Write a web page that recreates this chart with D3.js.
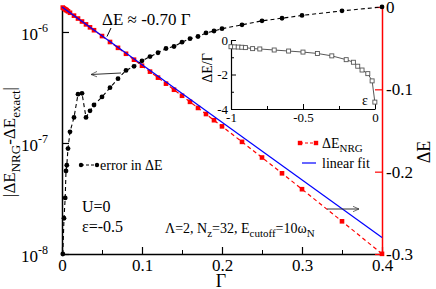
<!DOCTYPE html>
<html lang="en">
<head>
    <meta charset="UTF-8">
    <title>NRG error</title>
    <script src="https://d3js.org/d3.v7.min.js"></script>
    <style>
        body { margin: 0; background: #fff; }
        svg text { font-family: "Liberation Serif", "Times New Roman", Tinos, "DejaVu Serif", serif; fill: #000; }
    </style>
</head>
<body>
<script>
    var width = 436, height = 289;

    // shared Gamma grid of the NRG runs
    var gamma = [0.001, 0.0025, 0.004, 0.005, 0.006, 0.0075, 0.01, 0.015, 0.02, 0.025, 0.03, 0.035,
        0.04, 0.05, 0.06, 0.07, 0.08, 0.09, 0.1, 0.11, 0.12, 0.13, 0.14, 0.15, 0.16, 0.17, 0.18,
        0.19, 0.2, 0.225, 0.25, 0.275, 0.3, 0.35, 0.4];
    // |dE_NRG - dE_exact| (left, log axis)
    var errorDE = [1.0e-8, 2.1e-8, 3.2e-8, 5.6e-8, 6.3e-8, 8.9e-8, 1.26e-7, 1.7e-7, 2.75e-7, 2.8e-7,
        1.7e-7, 1.95e-7, 2.2e-7, 2.6e-7, 3.15e-7, 3.8e-7, 4.5e-7, 4.9e-7, 5.5e-7, 6.0e-7, 6.5e-7,
        7.1e-7, 7.4e-7, 8.1e-7, 8.7e-7, 9.1e-7, 9.8e-7, 1.02e-6, 1.07e-6, 1.16e-6, 1.26e-6,
        1.33e-6, 1.41e-6, 1.55e-6, 1.68e-6];
    // dE_NRG (right axis)
    var nrgDE = [-0.0007, -0.00175, -0.0028, -0.0035, -0.0042, -0.00525, -0.007, -0.0105, -0.014,
        -0.0176, -0.0211, -0.0247, -0.0282, -0.0353, -0.0425, -0.0496, -0.0568, -0.064, -0.0713,
        -0.0785, -0.0858, -0.0931, -0.1005, -0.1078, -0.1152, -0.1226, -0.13, -0.1375, -0.145,
        -0.1638, -0.1828, -0.202, -0.2213, -0.2603, -0.2998];
    // linear fit dE = -0.70 Gamma
    var fitGamma = [0, 0.4];
    var fitDE = [0, -0.28];

    // inset: dE/Gamma vs epsilon
    var insetEps = [-1, -0.975, -0.95, -0.925, -0.9, -0.85, -0.8, -0.7, -0.6, -0.5, -0.4, -0.3,
        -0.2, -0.15, -0.12, -0.09, -0.05, -0.02, -0.001];
    var insetRatio = [-0.39, -0.4, -0.41, -0.42, -0.44, -0.5, -0.52, -0.58, -0.64, -0.7, -0.78,
        -0.92, -1.14, -1.29, -1.52, -1.74, -1.95, -2.37, -3.6];

    var xTicks = [0, 0.1, 0.2, 0.3, 0.4];
    var xMinor = [0.05, 0.15, 0.25, 0.35];
    var leftTicks = [-6, -7, -8];
    var rightTicks = [0, -0.1, -0.2, -0.3];
    var insetXTicks = [-1, -0.5, 0];
    var insetXMinor = [-0.75, -0.25];
    var insetYTicks = [0, -2, -4];
    var insetYMinor = [-1, -3];

    // plain hyphen minus like the original
    function fmt(d) { return d === 0 ? "0" : String(d); }
    function fmt1(d) { return d === 0 ? "0" : d.toFixed(1); }

    var svg = d3.select("body").append("svg")
        .attr("width", width)
        .attr("height", height);

    var x = d3.scaleLinear().domain([0, 0.4]).range([62, 382]);
    var yL = d3.scaleLog().domain([1e-8, Math.pow(10, -5.775)]).range([254, 7]);
    var yR = d3.scaleLinear().domain([-0.3, 0]).range([254, 7]);

    // axes
    var gx = svg.append("g").attr("transform", "translate(0,254)")
        .call(d3.axisBottom(x).tickValues(xTicks).tickSizeInner(-7).tickSizeOuter(0)
            .tickPadding(5).tickFormat(fmt1));
    svg.append("g").attr("transform", "translate(0,254)")
        .call(d3.axisBottom(x).tickValues(xMinor).tickSizeInner(-4).tickSizeOuter(0).tickFormat(""))
        .select(".domain").remove();
    gx.selectAll("text").attr("font-size", 17).attr("dy", "0.72em");

    var gl = svg.append("g").attr("transform", "translate(62,0)")
        .call(d3.axisLeft(yL).tickValues(leftTicks.map(function (e) { return Math.pow(10, e); }))
            .tickSizeInner(-7).tickSizeOuter(0).tickFormat(""));
    leftTicks.forEach(function (e) {
        var t = svg.append("text")
            .attr("x", 48).attr("y", yL(Math.pow(10, e)) + 8)
            .attr("text-anchor", "end").attr("font-size", 17).text("10");
        t.append("tspan").attr("font-size", 12).attr("dy", -8).text(e);
    });

    var gr = svg.append("g").attr("transform", "translate(382,0)")
        .call(d3.axisRight(yR).tickValues(rightTicks).tickSizeInner(-7).tickSizeOuter(0)
            .tickPadding(4).tickFormat(fmt1));
    gr.selectAll("text").attr("font-size", 17);

    [gx, gl, gr].forEach(function (g) {
        g.select(".domain").attr("stroke-width", 1.5);
        g.selectAll(".tick line").attr("stroke-width", 1.2);
    });
    gr.select(".domain").attr("stroke", "red");
    gr.selectAll(".tick line").attr("stroke", "red");

    // axis titles
    svg.append("text").attr("x", 221).attr("y", 287).attr("text-anchor", "middle")
        .attr("font-size", 18).text("Γ");
    var lt = svg.append("text").attr("transform", "translate(15,142) rotate(-90)")
        .attr("text-anchor", "middle").attr("font-size", 17);
    lt.append("tspan").text("|ΔE");
    lt.append("tspan").attr("font-size", 13).attr("dy", 5).text("NRG");
    lt.append("tspan").attr("dy", -5).text("-ΔE");
    lt.append("tspan").attr("font-size", 13).attr("dy", 5).text("exact");
    lt.append("tspan").attr("dy", -5).text("|");
    svg.append("text").attr("transform", "translate(430,152) rotate(-90)")
        .attr("text-anchor", "middle").attr("font-size", 18).text("ΔE");

    // red NRG data
    var nrgPts = gamma.map(function (g, i) { return [x(g), yR(nrgDE[i])]; });
    svg.append("path").attr("d", d3.line()(nrgPts))
        .attr("fill", "none").attr("stroke", "red").attr("stroke-width", 1.2)
        .attr("stroke-dasharray", "4,3");
    svg.selectAll(".sq").data(nrgPts).enter().append("rect")
        .attr("x", function (d) { return d[0] - 2.3; })
        .attr("y", function (d) { return d[1] - 2.3; })
        .attr("width", 4.6).attr("height", 4.6).attr("fill", "red");

    // linear fit
    svg.append("path")
        .attr("d", d3.line()(fitGamma.map(function (g, i) { return [x(g), yR(fitDE[i])]; })))
        .attr("fill", "none").attr("stroke", "blue").attr("stroke-width", 1.2);

    // error data
    var errPts = gamma.map(function (g, i) { return [x(g), yL(errorDE[i])]; });
    svg.append("path").attr("d", d3.line()(errPts))
        .attr("fill", "none").attr("stroke", "black").attr("stroke-width", 1.1)
        .attr("stroke-dasharray", "4,3");
    svg.selectAll(".dot").data(errPts).enter().append("circle")
        .attr("cx", function (d) { return d[0]; })
        .attr("cy", function (d) { return d[1]; })
        .attr("r", 2.4).attr("fill", "black");

    // arrowheads
    var defs = svg.append("defs");
    defs.append("marker").attr("id", "arr").attr("viewBox", "0 0 10 10")
        .attr("refX", 9).attr("refY", 5).attr("markerWidth", 7).attr("markerHeight", 7)
        .attr("orient", "auto").attr("markerUnits", "userSpaceOnUse")
        .append("path").attr("d", "M0,1 L9,5 L0,9").attr("fill", "none").attr("stroke", "#333");
    svg.append("line").attr("x1", 121).attr("y1", 73).attr("x2", 91).attr("y2", 74.5)
        .attr("stroke", "#333").attr("marker-end", "url(#arr)");
    svg.append("line").attr("x1", 327).attr("y1", 209).attr("x2", 359).attr("y2", 209)
        .attr("stroke", "#333").attr("marker-end", "url(#arr)");

    // annotations
    svg.append("text").attr("x", 102).attr("y", 25).attr("font-size", 17).text("ΔE ≈ -0.70 Γ");
    svg.append("line").attr("x1", 111).attr("y1", 28).attr("x2", 107).attr("y2", 36.5)
        .attr("stroke", "black");
    svg.append("text").attr("x", 82).attr("y", 212).attr("font-size", 16).text("U=0");
    svg.append("text").attr("x", 82).attr("y", 232).attr("font-size", 16).text("ε=-0.5");
    var pt = svg.append("text").attr("x", 165).attr("y", 233).attr("font-size", 14);
    pt.append("tspan").text("Λ=2, N");
    pt.append("tspan").attr("font-size", 11).attr("dy", 4).text("z");
    pt.append("tspan").attr("dy", -4).text("=32, E");
    pt.append("tspan").attr("font-size", 11).attr("dy", 4).text("cutoff");
    pt.append("tspan").attr("dy", -4).text("=10ω");
    pt.append("tspan").attr("font-size", 11).attr("dy", 4).text("N");

    // legends
    svg.append("line").attr("x1", 81).attr("y1", 165).attr("x2", 97).attr("y2", 165)
        .attr("stroke", "black").attr("stroke-dasharray", "3,2");
    [81, 97].forEach(function (cx) {
        svg.append("circle").attr("cx", cx).attr("cy", 165).attr("r", 2.2).attr("fill", "black");
    });
    svg.append("text").attr("x", 100).attr("y", 169.5).attr("font-size", 14).text("error in ΔE");

    svg.append("line").attr("x1", 300).attr("y1", 143).attr("x2", 316).attr("y2", 143)
        .attr("stroke", "red").attr("stroke-dasharray", "3,2").attr("stroke-width", 1.2);
    [300, 316].forEach(function (cx) {
        svg.append("rect").attr("x", cx - 2.2).attr("y", 140.8).attr("width", 4.4).attr("height", 4.4)
            .attr("fill", "red");
    });
    var lg = svg.append("text").attr("x", 322).attr("y", 148).attr("font-size", 14);
    lg.append("tspan").text("ΔE");
    lg.append("tspan").attr("font-size", 11).attr("dy", 4).text("NRG");
    svg.append("line").attr("x1", 302).attr("y1", 163).attr("x2", 316).attr("y2", 163)
        .attr("stroke", "blue").attr("stroke-width", 1.2);
    svg.append("text").attr("x", 322).attr("y", 168).attr("font-size", 14).text("linear fit");

    // inset
    var xi = d3.scaleLinear().domain([-1, 0]).range([231, 375]);
    var yi = d3.scaleLinear().domain([-4, 0]).range([109, 40]);
    var ix = svg.append("g").attr("transform", "translate(0,109)")
        .call(d3.axisBottom(xi).tickValues(insetXTicks).tickSizeInner(-5).tickSizeOuter(0)
            .tickPadding(4).tickFormat(fmt));
    svg.append("g").attr("transform", "translate(0,109)")
        .call(d3.axisBottom(xi).tickValues(insetXMinor).tickSizeInner(-3).tickSizeOuter(0).tickFormat(""))
        .select(".domain").remove();
    var iy = svg.append("g").attr("transform", "translate(231,0)")
        .call(d3.axisLeft(yi).tickValues(insetYTicks).tickSizeInner(-5).tickSizeOuter(0)
            .tickPadding(3).tickFormat(fmt));
    svg.append("g").attr("transform", "translate(231,0)")
        .call(d3.axisLeft(yi).tickValues(insetYMinor).tickSizeInner(-3).tickSizeOuter(0).tickFormat(""))
        .select(".domain").remove();
    [ix, iy].forEach(function (g) {
        g.selectAll("text").attr("font-size", 13);
        g.select(".domain").attr("stroke-width", 1.2);
    });
    ix.selectAll("text").attr("dy", "0.72em");
    svg.append("text").attr("transform", "translate(212,68) rotate(-90)")
        .attr("text-anchor", "middle").attr("font-size", 14).text("ΔE/Γ");
    svg.append("text").attr("x", 362).attr("y", 105).attr("font-size", 14).text("ε");

    var insPts = insetEps.map(function (e, i) { return [xi(e), yi(insetRatio[i])]; });
    svg.append("path").attr("d", d3.line()(insPts))
        .attr("fill", "none").attr("stroke", "#444").attr("stroke-width", 0.9);
    svg.selectAll(".isq").data(insPts).enter().append("rect")
        .attr("x", function (d) { return d[0] - 2; })
        .attr("y", function (d) { return d[1] - 2; })
        .attr("width", 4).attr("height", 4)
        .attr("fill", "#fff").attr("stroke", "#555").attr("stroke-width", 0.9);
</script>
</body>
</html>
